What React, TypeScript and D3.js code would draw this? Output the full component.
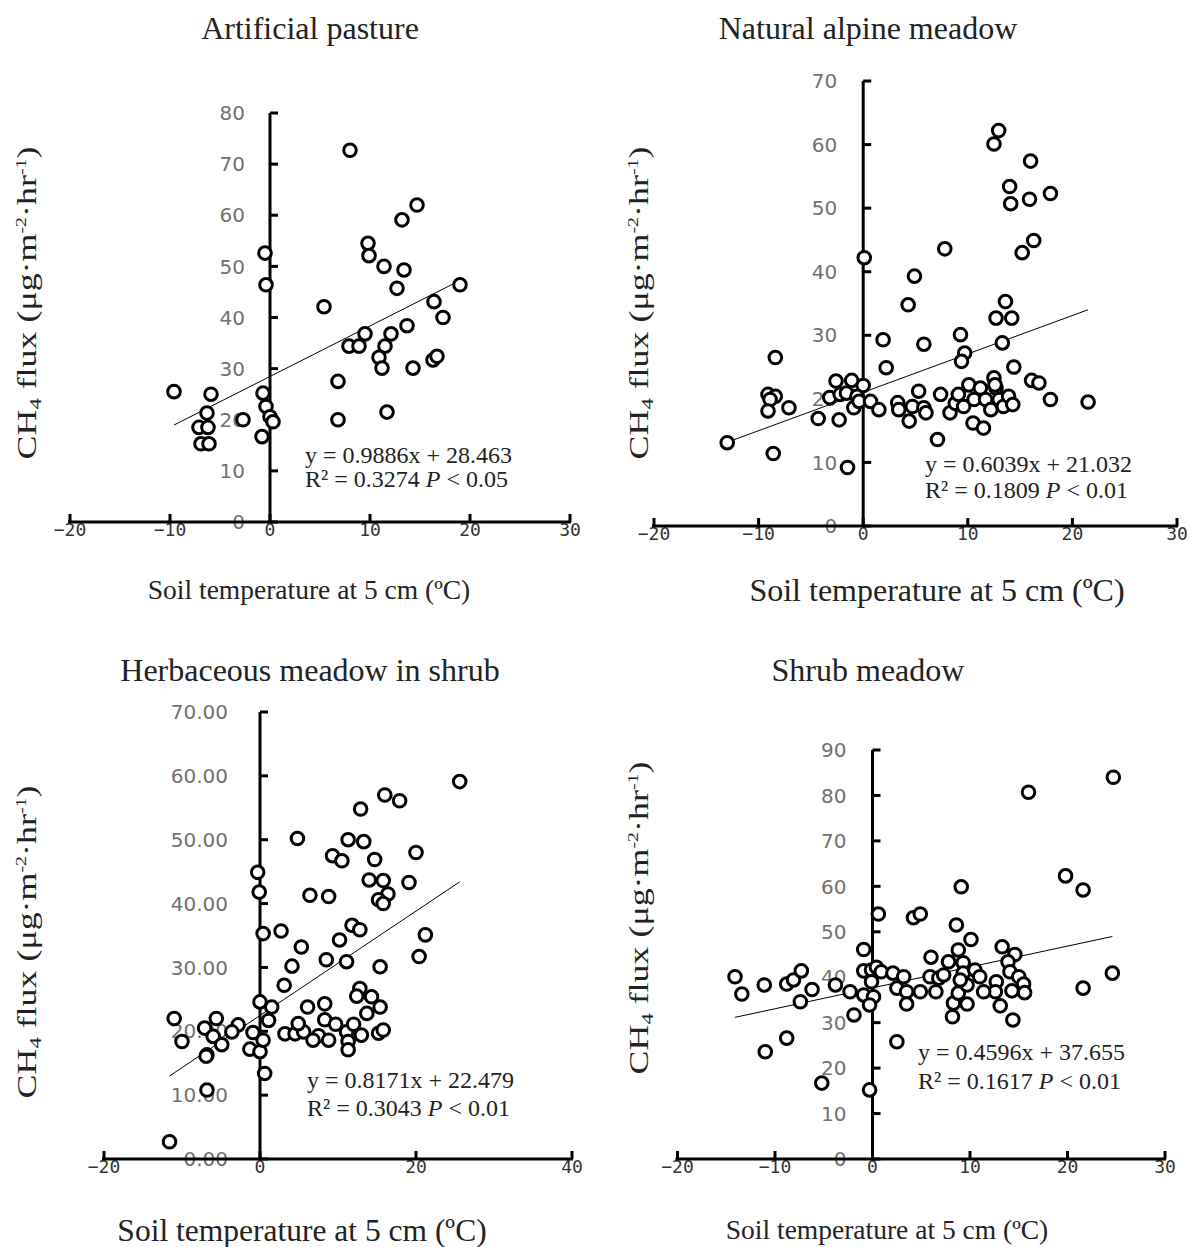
import React from 'react';
import * as d3 from 'd3';

type Pt = [number, number];

const artificialPasture: Pt[] = [
  [8.0,72.7],[14.7,62.0],[13.2,59.1],[9.8,54.5],[9.9,52.1],[11.4,50.0],[13.4,49.3],[12.7,45.7],
  [-0.5,52.6],[-0.4,46.4],[5.4,42.1],[19.0,46.4],[16.4,43.1],[17.3,40.0],[9.5,36.8],[12.1,36.8],
  [13.7,38.4],[7.9,34.4],[8.9,34.4],[11.5,34.4],[10.9,32.2],[11.2,30.1],[14.3,30.1],[16.3,31.7],
  [16.7,32.4],[6.8,27.5],[6.8,20.0],[11.7,21.5],[-9.6,25.5],[-5.9,25.0],[-6.3,21.3],[-7.1,18.5],
  [-6.2,18.5],[-6.9,15.3],[-6.1,15.3],[-2.7,20.0],[-0.7,25.2],[-0.4,22.6],[0.0,20.6],[0.3,19.6],[-0.8,16.7]
];

const naturalAlpineMeadow: Pt[] = [
  [12.95,62.2],[12.5,60.1],[16.0,57.4],[14.0,53.4],[14.1,50.7],[15.9,51.4],[17.9,52.3],[16.3,44.9],
  [15.2,43.0],[0.1,42.2],[7.8,43.6],[4.9,39.3],[4.3,34.8],[13.6,35.3],[12.7,32.7],[14.2,32.7],
  [1.9,29.3],[5.8,28.6],[9.3,30.1],[9.7,27.2],[9.4,25.9],[13.3,28.8],[2.2,24.9],[14.4,25.0],
  [-8.4,26.5],[16.1,22.9],[16.8,22.5],[17.9,19.9],[21.5,19.5],[-13.0,13.1],[-8.6,11.4],[-1.5,9.2],
  [7.1,13.6],[-9.1,20.7],[-8.4,20.4],[-8.9,19.9],[-9.1,18.1],[-7.1,18.6],[-4.3,16.9],[-2.3,16.7],
  [-2.6,22.8],[-1.1,22.9],[0,22.1],[-3.2,20.2],[-2.2,20.7],[-1.6,20.9],[-0.6,20.4],[-0.9,18.6],
  [-0.4,19.6],[0.7,19.6],[1.5,18.3],[3.3,19.4],[3.4,18.3],[4.4,16.5],[4.7,18.8],[5.3,21.2],
  [5.8,18.6],[6.0,17.8],[7.4,20.7],[8.3,17.8],[8.8,19.3],[9.1,20.7],[9.6,18.8],[10.1,22.2],
  [10.6,19.9],[10.5,16.2],[11.2,21.7],[11.5,15.4],[11.7,19.9],[12.2,18.3],[12.5,23.3],[12.7,21.7],
  [13.0,19.9],[13.4,18.8],[13.9,20.4],[14.3,19.1],[12.6,22.2]
];

const herbaceousMeadow: Pt[] = [
  [25.6,59.1],[16.0,57.0],[17.9,56.1],[12.9,54.8],[4.8,50.2],[11.3,50.0],[13.3,49.7],[9.3,47.5],
  [10.5,46.7],[14.7,46.9],[20.0,48.0],[-0.3,44.9],[-0.1,41.8],[6.4,41.3],[8.8,41.1],[14.0,43.7],
  [15.8,43.6],[19.1,43.3],[16.4,41.5],[15.2,40.6],[15.8,40.0],[0.4,35.3],[2.7,35.7],[5.3,33.2],
  [4.1,30.2],[3.1,27.2],[8.5,31.2],[11.1,30.9],[10.2,34.3],[11.8,36.6],[12.8,35.9],[15.4,30.1],
  [20.4,31.7],[21.2,35.1],[0,24.6],[1.5,23.8],[1.1,21.7],[6.1,23.8],[8.3,24.3],[12.8,26.7],
  [12.4,25.5],[14.3,25.4],[15.4,23.8],[13.7,22.8],[-11.0,22.0],[-10.0,18.4],[-5.6,22.0],[-7.1,20.5],
  [-6.0,19.2],[-6.8,16.3],[-4.9,17.9],[-2.8,21.0],[-3.6,19.9],[-0.9,19.8],[-1.3,17.2],[0,16.8],
  [0.4,18.6],[0.6,13.4],[3.2,19.6],[4.5,19.6],[5.6,19.9],[4.9,21.2],[7.5,19.3],[8.3,21.8],
  [8.8,18.6],[9.7,21.1],[11.1,19.9],[11.3,18.4],[11.3,17.1],[12.0,21.1],[13.0,19.4],[15.2,19.7],
  [15.8,20.2],[6.8,18.6],[-11.6,2.7],[-6.8,10.8],[-6.9,16.1]
];

const shrubMeadow: Pt[] = [
  [24.7,84.0],[16.0,80.7],[9.1,59.9],[19.8,62.3],[21.6,59.2],[0.6,53.9],[4.2,53.1],[4.9,53.9],
  [8.6,51.5],[10.1,48.3],[8.8,46.0],[13.3,46.7],[14.6,45.0],[-0.9,46.1],[6.0,44.4],[7.8,43.4],
  [9.3,43.2],[-14.1,40.1],[-13.4,36.3],[-11.1,38.3],[-8.8,38.5],[-8.1,39.4],[-7.3,41.4],[-6.2,37.3],
  [-7.4,34.6],[-3.8,38.3],[-2.3,36.8],[-1.9,31.7],[-0.9,41.4],[-0.1,41.6],[0.4,42.2],[0.9,41.2],
  [-0.1,39.0],[-0.9,36.1],[0.1,35.7],[-0.3,33.9],[2.1,40.9],[3.2,40.1],[2.5,37.6],[3.5,36.8],
  [3.5,34.1],[4.9,36.8],[5.9,40.1],[6.8,39.8],[6.5,36.8],[8.2,31.3],[8.3,34.3],[8.8,36.5],
  [9.3,40.9],[9.7,38.3],[9.7,34.1],[13.9,43.4],[10.5,41.6],[11.0,40.1],[14.1,41.2],[15.0,40.1],
  [15.5,38.5],[15.6,36.6],[14.3,37.0],[12.7,39.0],[12.6,36.8],[13.1,33.7],[14.4,30.6],[11.4,36.8],
  [7.3,40.5],[9.0,39.4],[21.6,37.6],[24.6,40.9],[2.5,25.8],[-8.8,26.6],[-11.0,23.6],[-5.2,16.7],[-0.3,15.2]
];

const panelTitles = ['Artificial pasture', 'Natural alpine meadow', 'Herbaceous meadow in shrub', 'Shrub meadow'];
const slopes = [0.9886, 0.6039, 0.8171, 0.4596];
const intercepts = [28.463, 21.032, 22.479, 37.655];
const r2Values = ['0.3274', '0.1809', '0.3043', '0.1617'];
const pValues = ['0.05', '0.01', '0.01', '0.01'];
const fitRanges: Pt[] = [[-9.6, 19.0], [-13.0, 21.5], [-11.6, 25.6], [-14.1, 24.6]];
const xDomains: Pt[] = [[-20, 30], [-20, 30], [-20, 40], [-20, 30]];
const yDomains: Pt[] = [[0, 80], [0, 70], [0, 70], [0, 90]];
const xSteps = [10, 10, 20, 10];
const ySteps = [10, 10, 10, 10];
const yDecimals = [0, 0, 2, 0];
const datasets = [artificialPasture, naturalAlpineMeadow, herbaceousMeadow, shrubMeadow];

const layouts = [
  { xr: [70, 570], yr: [522, 113], title: [310, 39], xl: [309, 599], xfs: 27.5, yl: [36, 303], eq: [305, 463, 487], yo: 25 },
  { xr: [654, 1177], yr: [526, 81], title: [868, 39], xl: [937, 601], xfs: 32, yl: [648, 303], eq: [925, 472, 498], yo: 26 },
  { xr: [104, 572], yr: [1159, 712], title: [310, 681], xl: [302, 1241], xfs: 31.5, yl: [36, 942], eq: [307, 1088, 1116], yo: 32 },
  { xr: [677.5, 1165], yr: [1159, 750], title: [868, 681], xl: [887, 1239], xfs: 27.5, yl: [648, 918], eq: [918, 1060, 1089], yo: 26 },
];

const SERIF = '"Liberation Serif", "Times New Roman", serif';

function Panel({ i }: { i: number }) {
  const L = layouts[i];
  const x = d3.scaleLinear().domain(xDomains[i]).range(L.xr as [number, number]);
  const y = d3.scaleLinear().domain(yDomains[i]).range(L.yr as [number, number]);
  const xt = d3.range(xDomains[i][0], xDomains[i][1] + 0.001, xSteps[i]);
  const yt = d3.range(yDomains[i][0], yDomains[i][1] + 0.001, ySteps[i]);
  const x0 = x(0);
  const y0 = y(0);
  const fit = fitRanges[i].map((v) => [v, slopes[i] * v + intercepts[i]] as Pt);
  const line = d3.line<Pt>().x((d) => x(d[0])).y((d) => y(d[1]));
  const fmt = d3.format(`.${yDecimals[i]}f`);
  return (
    <g>
      <text x={L.title[0]} y={L.title[1]} textAnchor="middle" fontFamily={SERIF} fontSize={32} fill="#222">{panelTitles[i]}</text>
      <text x={L.xl[0]} y={L.xl[1]} textAnchor="middle" fontFamily={SERIF} fontSize={L.xfs} fill="#222">Soil temperature at 5 cm (ºC)</text>
      <text transform={`translate(${L.yl[0]},${L.yl[1]}) rotate(-90) scale(1.33,1)`} textAnchor="middle" fontFamily={SERIF} fontSize={27} fill="#222">
        CH<tspan fontSize={17} dy={5}>4</tspan><tspan dy={-5}> flux (μg·m</tspan><tspan fontSize={15} dy={-10}>-2</tspan><tspan dy={10}>·hr</tspan><tspan fontSize={15} dy={-10}>-1</tspan><tspan dy={10}>)</tspan>
      </text>
      {yt.map((t) => (
        <text key={'yl' + t} x={x0 - L.yo} y={y(t)} dy="0.36em" textAnchor="end" fontFamily='"DejaVu Sans", Verdana, sans-serif' fontSize={20} fill="#707070">{fmt(t)}</text>
      ))}
      {xt.map((t) => (
        <text key={'xl' + t} x={x(t)} y={y0 + 14} textAnchor="middle" fontFamily='"DejaVu Sans Mono", monospace' fontSize={18} fill="#333">{t < 0 ? '−' + Math.abs(t) : String(t)}</text>
      ))}
      <line x1={x0} x2={x0} y1={y(yDomains[i][1])} y2={y0} stroke="#000" strokeWidth={3} />
      {yt.map((t) => (
        <line key={'yt' + t} x1={x0} x2={x0 + 8} y1={y(t)} y2={y(t)} stroke="#000" strokeWidth={3} />
      ))}
      <line x1={x(xDomains[i][0]) - 2} x2={x(xDomains[i][1]) + 1} y1={y0} y2={y0} stroke="#000" strokeWidth={3} />
      {xt.map((t) => (
        <line key={'xt' + t} x1={x(t)} x2={x(t)} y1={y0} y2={y0 - 8} stroke="#000" strokeWidth={3} />
      ))}
      <path d={line(fit) || ''} stroke="#000" strokeWidth={1} fill="none" />
      {datasets[i].map((d, k) => (
        <circle key={k} cx={x(d[0])} cy={y(d[1])} r={6.3} fill="#fff" stroke="#000" strokeWidth={3} />
      ))}
      <text x={L.eq[0]} y={L.eq[1]} fontFamily={SERIF} fontSize={24} fill="#222">{`y = ${slopes[i]}x + ${intercepts[i]}`}</text>
      <text x={L.eq[0]} y={L.eq[2]} fontFamily={SERIF} fontSize={24} fill="#222">
        {`R² = ${r2Values[i]} `}<tspan fontStyle="italic">P</tspan>{` < ${pValues[i]}`}
      </text>
    </g>
  );
}

export default function App() {
  return (
    <svg width={1190} height={1247} style={{ position: 'absolute', left: 0, top: 0, background: '#fff' }}>
      <rect width={1190} height={1247} fill="#fff" />
      {[0, 1, 2, 3].map((i) => <Panel key={i} i={i} />)}
    </svg>
  );
}
